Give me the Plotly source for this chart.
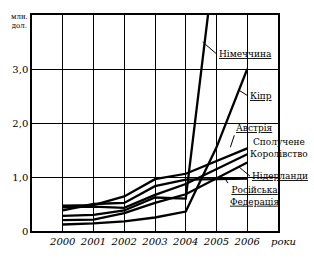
import plotly.graph_objects as go

years = [2000, 2001, 2002, 2003, 2004, 2005, 2006]
germany = [0.28, 0.30, 0.38, 0.62, 0.60, 5.30, 5.90]
cyprus = [0.12, 0.14, 0.18, 0.25, 0.36, 1.55, 3.00]
austria = [0.47, 0.48, 0.64, 0.96, 1.06, 1.30, 1.53]
uk = [0.44, 0.45, 0.43, 0.67, 0.87, 1.14, 1.42]
netherlands = [0.20, 0.21, 0.33, 0.52, 0.68, 0.97, 1.27]
russia = [0.38, 0.50, 0.52, 0.83, 0.95, 0.96, 0.97]

series = [
    ("Німеччина", germany),
    ("Кіпр", cyprus),
    ("Австрія", austria),
    ("Сполучене Королівство", uk),
    ("Нідерланди", netherlands),
    ("Російська Федерація", russia),
]

y_ticks = [0, 1, 2, 3]
y_tick_text = ["0", "1,0", "2,0", "3,0"]

serif = "DejaVu Serif"

fig = go.Figure()
for name, vals in series:
    fig.add_trace(go.Scatter(x=years, y=vals, mode="lines", name=name,
                             line=dict(color="black", width=2.3),
                             cliponaxis=True))

fig.update_layout(
    width=314, height=259,
    margin=dict(l=30, r=36, t=15, b=27),
    paper_bgcolor="white", plot_bgcolor="white",
    showlegend=False,
    font=dict(family=serif, color="black", size=10),
    xaxis=dict(range=[1999, 2007], tickvals=years,
               ticktext=["<i>%d</i>" % y for y in years],
               showgrid=True, gridcolor="black", gridwidth=1.1,
               showline=True, linecolor="black", linewidth=1.5, mirror=True,
               ticks="", zeroline=False,
               tickfont=dict(size=10, family=serif, color="black")),
    yaxis=dict(range=[0, 4.0], tickvals=y_ticks, ticktext=y_tick_text,
               showgrid=True, gridcolor="black", gridwidth=1.1,
               showline=True, linecolor="black", linewidth=1.5, mirror=True,
               ticks="", zeroline=False,
               tickfont=dict(size=10, family=serif, color="black")),
)

lab_font = dict(size=9, family=serif, color="black")

fig.add_annotation(x=2004.55, y=3.5, text="<u>Німеччина</u>", showarrow=True,
                   arrowhead=0, arrowwidth=1, arrowcolor="black", ax=14, ay=12,
                   xanchor="left", yanchor="middle", font=lab_font)
fig.add_annotation(x=2005.75, y=2.6, text="<u>Кіпр</u>", showarrow=True,
                   arrowhead=0, arrowwidth=1, arrowcolor="black", ax=8, ay=5,
                   xanchor="left", yanchor="middle", font=lab_font)
fig.add_annotation(x=2005.45, y=1.55, text="<u>Австрія</u>", showarrow=True,
                   arrowhead=0, arrowwidth=1, arrowcolor="black", ax=4, ay=-12,
                   xanchor="left", yanchor="bottom", font=lab_font)
fig.add_annotation(x=2005.9, y=1.5, text="Сполучене<br>Королівство", showarrow=True,
                   arrowhead=0, arrowwidth=1, arrowcolor="black", ax=4, ay=-2,
                   xanchor="left", yanchor="middle", font=lab_font)
fig.add_annotation(x=2005.7, y=1.2, text="<u>Нідерланди</u>", showarrow=True,
                   arrowhead=0, arrowwidth=1, arrowcolor="black", ax=12, ay=10,
                   xanchor="left", yanchor="middle", font=lab_font)
fig.add_annotation(x=2005.3, y=0.96, text="<u>Російська</u><br><u>Федерація</u>", showarrow=True,
                   arrowhead=0, arrowwidth=1, arrowcolor="black", ax=2, ay=4,
                   xanchor="left", yanchor="top", font=lab_font)

fig.add_annotation(xref="paper", yref="paper", x=0.965, y=0, yshift=-10,
                   text="<i>роки</i>", showarrow=False, xanchor="left", yanchor="middle",
                   font=dict(size=10, family=serif, color="black"))
fig.add_annotation(xref="paper", yref="paper", x=0, y=1, xshift=-2, yshift=4,
                   text="млн.<br>дол.", showarrow=False, xanchor="right", yanchor="top",
                   font=dict(size=7, family=serif, color="black"))

fig.write_html("out.html")
